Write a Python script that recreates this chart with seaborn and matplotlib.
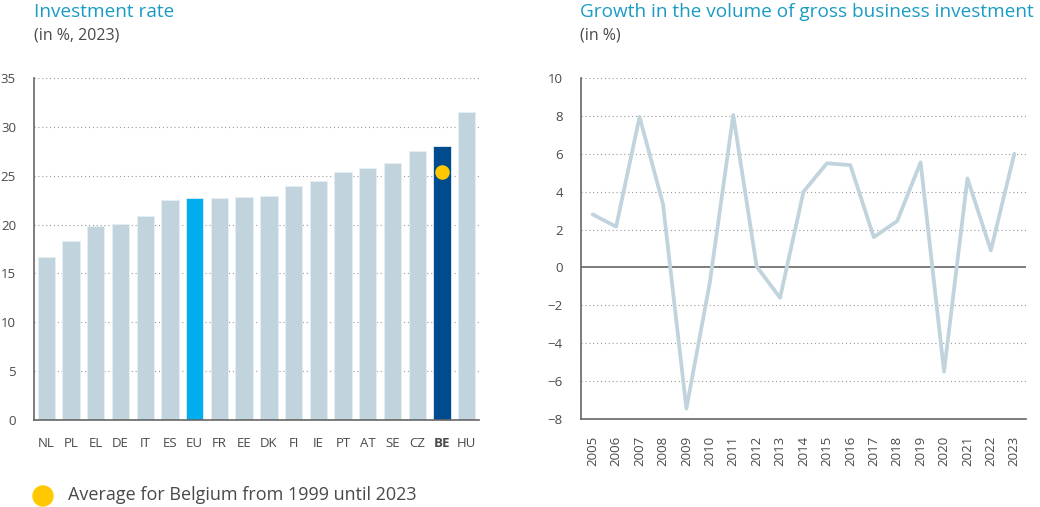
import numpy as np
import pandas as pd
import matplotlib
matplotlib.use("Agg")
import matplotlib.pyplot as plt
import seaborn as sns

sns.set_theme(style="white")
plt.rcParams["font.family"] = ["Open Sans", "DejaVu Sans"]

# Datos: tasa de inversión 2023 (%)
countries = ["NL", "PL", "EL", "DE", "IT", "ES", "EU", "FR", "EE", "DK",
             "FI", "IE", "PT", "AT", "SE", "CZ", "BE", "HU"]
inv_rate = [16.7, 18.35, 19.85, 20.1, 20.9, 22.5, 22.7, 22.7, 22.8, 22.9,
            23.9, 24.45, 25.4, 25.75, 26.35, 27.5, 28.0, 31.5]
be_average = 25.4

# Datos: crecimiento de la inversión empresarial bruta (%)
years = list(range(2005, 2024))
growth = [2.8, 2.15, 7.95, 3.35, -7.45, -0.8, 8.05, 0.05, -1.6, 4.0,
          5.5, 5.4, 1.6, 2.45, 5.55, -5.5, 4.7, 0.9, 6.0]

GREY = "#c1d3dc"
EU_BLUE = "#00adee"
BE_BLUE = "#004b8d"
YELLOW = "#ffc800"
TITLE = "#1a9bc3"
TXT = "#4a4a4a"
AXIS = "#666666"

fig = plt.figure(figsize=(10.4, 5.07), dpi=100)
ax1 = fig.add_axes([34 / 1040, 1 - 420 / 507, 445 / 1040, 342 / 507])
ax2 = fig.add_axes([581 / 1040, 1 - 419 / 507, 445 / 1040, 341 / 507])

def grid_dotted(ax, vals):
    for v in vals:
        ax.axhline(v, color="#9a9a9a", lw=0.8, ls=(0, (1, 2.5)), zorder=0)

# ---- Panel izquierdo: barras ----
df1 = pd.DataFrame({"country": countries, "rate": inv_rate})
palette = {c: GREY for c in countries}
palette["EU"] = EU_BLUE
palette["BE"] = BE_BLUE
grid_dotted(ax1, [5, 10, 15, 20, 25, 30, 35])
sns.barplot(data=df1, x="country", y="rate", hue="country", palette=palette,
            saturation=1, width=0.7, legend=False, ax=ax1, zorder=2,
            edgecolor="#e6eef2", linewidth=0.6)
be_idx = countries.index("BE")
ax1.scatter([be_idx], [be_average], s=110, color=YELLOW, zorder=4, linewidths=0)
ax1.set_xlim(-0.5, len(countries) - 0.5)
ax1.set_ylim(0, 35)
ax1.set_yticks(range(0, 36, 5))
ax1.set_xticks(np.arange(-0.5, len(countries), 1), minor=True)
ax1.tick_params(axis="x", which="major", length=0, pad=12, labelsize=9.5, labelcolor=TXT)
ax1.tick_params(axis="x", which="minor", direction="in", length=7, width=1, color=AXIS)
ax1.tick_params(axis="y", length=7, width=1, color=AXIS, labelsize=9.5, labelcolor=TXT, pad=6)
for lbl in ax1.get_xticklabels():
    if lbl.get_text() == "BE":
        lbl.set_fontweight("bold")
ax1.set_xlabel("")
ax1.set_ylabel("")
sns.despine(ax=ax1)
for s in ["left", "bottom"]:
    ax1.spines[s].set_color(AXIS)
    ax1.spines[s].set_linewidth(1.2)

# ---- Panel derecho: línea ----
df2 = pd.DataFrame({"year": years, "growth": growth})
grid_dotted(ax2, [-6, -4, -2, 2, 4, 6, 8, 10])
ax2.axhline(0, color=AXIS, lw=1.2, zorder=1)
sns.lineplot(data=df2, x="year", y="growth", color=GREY, lw=2.7, ax=ax2, zorder=3)
ax2.set_xlim(years[0] - 0.5, years[-1] + 0.5)
ax2.set_ylim(-8, 10)
ax2.set_yticks(range(-8, 11, 2))
ax2.set_yticklabels([str(v).replace("-", "\u2212") for v in range(-8, 11, 2)])
ax2.set_xticks(years)
ax2.set_xticklabels([str(y) for y in years], rotation=90)
ax2.set_xticks(np.arange(years[0] - 0.5, years[-1] + 1, 1), minor=True)
ax2.tick_params(axis="x", which="major", length=0, pad=12, labelsize=9.5, labelcolor=TXT)
ax2.tick_params(axis="x", which="minor", direction="in", length=7, width=1, color=AXIS)
ax2.tick_params(axis="y", length=7, width=1, color=AXIS, labelsize=9.5, labelcolor=TXT, pad=6)
ax2.set_xlabel("")
ax2.set_ylabel("")
sns.despine(ax=ax2)
for s in ["left", "bottom"]:
    ax2.spines[s].set_color(AXIS)
    ax2.spines[s].set_linewidth(1.2)

# ---- Títulos ----
fig.text(34 / 1040, 1 - 3 / 507, "Investment rate", color=TITLE, fontsize=13.7,
         va="top", ha="left")
fig.text(34 / 1040, 1 - 27 / 507, "(in %, 2023)", color=TXT, fontsize=11.5,
         va="top", ha="left")
fig.text(580 / 1040, 1 - 3 / 507, "Growth in the volume of gross business investment",
         color=TITLE, fontsize=13.7, va="top", ha="left")
fig.text(580 / 1040, 1 - 27 / 507, "(in %)", color=TXT, fontsize=11.5,
         va="top", ha="left")

# ---- Leyenda ----
fig.patches.append(matplotlib.patches.Ellipse((43 / 1040, 1 - 496 / 507), 20 / 1040, 20 / 507,
                                              transform=fig.transFigure, color=YELLOW))
fig.text(68 / 1040, 1 - 495 / 507, "Average for Belgium from 1999 until 2023",
         color=TXT, fontsize=13, va="center", ha="left")

fig.savefig("out.png", dpi=100)
